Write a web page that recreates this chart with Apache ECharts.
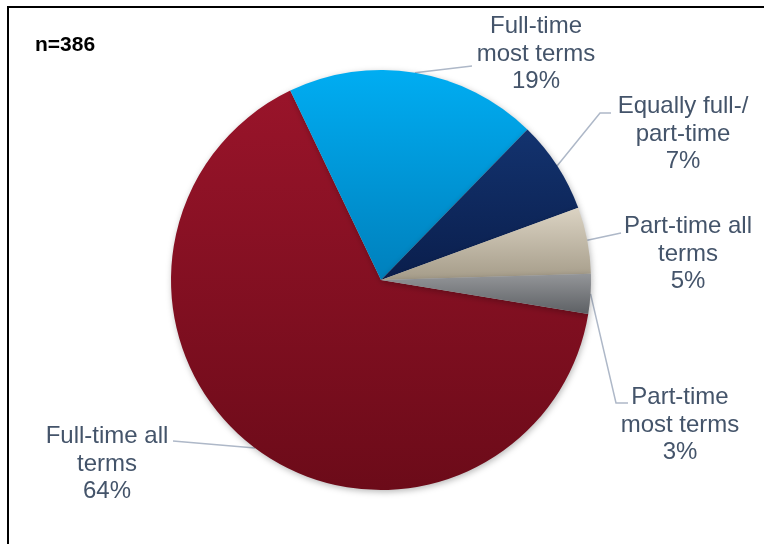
<!DOCTYPE html>
<html>
<head>
<meta charset="utf-8">
<style>
  html, body { margin: 0; padding: 0; background: #ffffff; }
  #chart { width: 764px; height: 544px; }
</style>
<script src="https://cdn.jsdelivr.net/npm/echarts@6/dist/echarts.min.js"></script>
</head>
<body>
<div id="chart"></div>
<script>
// Enrollment intensity of respondents
const sampleNote = 'n=386';
const categories = [
  'Full-time all\nterms',
  'Full-time\nmost terms',
  'Equally full-/\npart-time',
  'Part-time all\nterms',
  'Part-time\nmost terms'
];
const shares = [64, 19, 7, 5, 3];

// Per-slice vertical gradients: [top colour, bottom colour]
const sliceColors = [
  ['#99142a', '#6c0b19'],
  ['#00adf2', '#0080bc'],
  ['#13336f', '#0a1e4c'],
  ['#dbd3c3', '#a59c89'],
  ['#949699', '#5d6064']
];

// Label block centres and the leader-line points after the slice edge
const labelSpots = [
  { x: 107, y: 464, line: [[173, 441]] },
  { x: 536, y: 54,  line: [[472, 66]] },
  { x: 683, y: 134, line: [[600, 113], [611, 113]] },
  { x: 688, y: 254, line: [[621, 233]] },
  { x: 680, y: 425, line: [[616, 403], [628, 403]] }
];

const textColor = '#44546a';
const fontFamily = '"Liberation Sans", Arial, Helvetica, sans-serif';

const chart = echarts.init(document.getElementById('chart'), null, { renderer: 'canvas' });

const seriesData = categories.map((name, i) => ({
  name: name,
  value: shares[i],
  itemStyle: {
    color: new echarts.graphic.LinearGradient(0, 0, 0, 1, [
      { offset: 0, color: sliceColors[i][0] },
      { offset: 1, color: sliceColors[i][1] }
    ])
  }
}));

chart.setOption({
  animation: false,
  backgroundColor: '#ffffff',
  graphic: [
    {
      type: 'rect',
      shape: { x: 8, y: 7, width: 820, height: 620 },
      style: { fill: 'none', stroke: '#000000', lineWidth: 2 },
      z: 10
    },
    {
      type: 'text',
      left: 35,
      top: 35,
      style: {
        text: sampleNote,
        fill: '#000000',
        font: 'bold 21px ' + fontFamily
      }
    }
  ],
  series: [
    {
      type: 'pie',
      center: [381, 280],
      radius: [0, 210],
      startAngle: 350.7,
      clockwise: true,
      avoidLabelOverlap: false,
      itemStyle: {
        shadowBlur: 6,
        shadowColor: 'rgba(0,0,0,0.28)',
        shadowOffsetX: 1,
        shadowOffsetY: 2
      },
      label: {
        show: true,
        position: 'outside',
        formatter: (p) => p.name + '\n' + p.value + '%',
        color: textColor,
        fontFamily: fontFamily,
        fontSize: 24,
        lineHeight: 27.5,
        align: 'center'
      },
      labelLine: {
        show: true,
        length: 10,
        length2: 10,
        lineStyle: { color: '#aeb8c8', width: 1.5 }
      },
      labelLayout: function (params) {
        const spot = labelSpots[params.dataIndex];
        const start = params.labelLinePoints ? params.labelLinePoints[0] : spot.line[0];
        return {
          x: spot.x,
          y: spot.y,
          align: 'center',
          verticalAlign: 'middle',
          labelLinePoints: [start].concat(spot.line)
        };
      },
      emphasis: { disabled: true },
      data: seriesData
    }
  ]
});
</script>
</body>
</html>
